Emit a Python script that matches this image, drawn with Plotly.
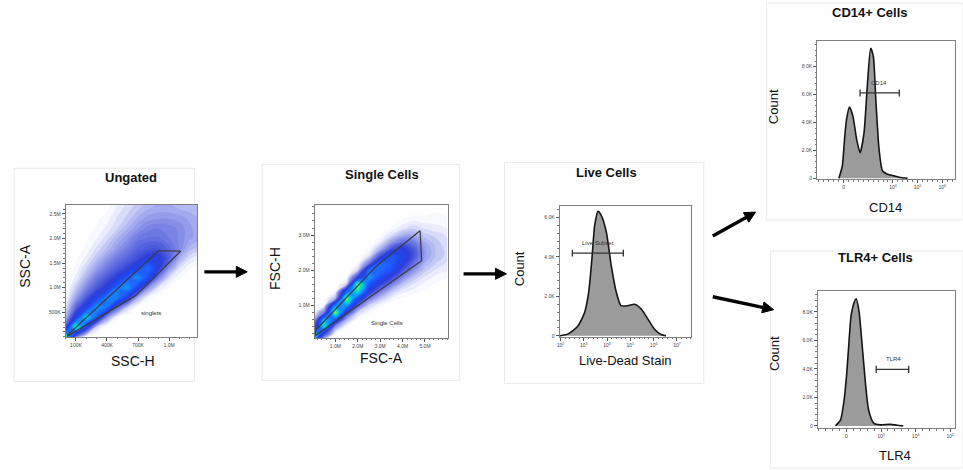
import math
import plotly.graph_objects as go

W, H = 963, 470

# ---------------- DATA ----------------
# Ungated: SSC-H (x) vs SSC-A (y) density grid (relative event density 0-10)
ssc_h_nodes = [0, 100e3, 200e3, 300e3, 400e3, 500e3, 600e3, 700e3, 800e3, 900e3, 1000e3, 1100e3, 1200e3, 1300e3]
ssc_a_nodes = [0, 200e3, 400e3, 600e3, 800e3, 1000e3, 1200e3, 1400e3, 1600e3, 1800e3, 2000e3, 2200e3, 2400e3, 2600e3, 2800e3]
ungated_density = [
    [10, 2.5, 0, 0, 0, 0, 0, 0, 0, 0, 0, 0, 0, 0],
    [3.5, 9.5, 5, 1, 0, 0, 0, 0, 0, 0, 0, 0, 0, 0],
    [1.2, 5, 8.5, 6, 2, 0.3, 0, 0, 0, 0, 0, 0, 0, 0],
    [0.6, 3, 5, 7.5, 6.5, 3, 1, 0.2, 0, 0, 0, 0, 0, 0],
    [0.3, 1.8, 3.3, 5, 7, 7, 4.5, 1.5, 0.4, 0.1, 0, 0, 0, 0],
    [0.1, 1.1, 2.3, 3.4, 4.5, 6.5, 7.5, 5, 2, 0.7, 0.2, 0, 0, 0],
    [0, 0.6, 1.5, 2.6, 3.4, 4.4, 6, 7.3, 5.3, 2.3, 0.8, 0.3, 0, 0],
    [0, 0.3, 1, 1.8, 2.6, 3.3, 4, 5.2, 6.5, 4.3, 2, 0.8, 0.3, 0.1],
    [0, 0.2, 0.6, 1.2, 1.9, 2.6, 3.1, 3.7, 4.5, 4.5, 3.2, 1.6, 0.8, 0.5],
    [0, 0.1, 0.3, 0.8, 1.3, 1.9, 2.5, 3.1, 3.4, 3.4, 2.9, 2.2, 1.4, 1.1],
    [0, 0, 0.2, 0.5, 0.9, 1.5, 2, 2.6, 2.8, 2.8, 2.5, 2.2, 1.8, 1.6],
    [0, 0, 0.1, 0.3, 0.6, 1, 1.5, 2, 2.4, 2.5, 2.4, 2.2, 1.8, 1.6],
    [0, 0, 0, 0.2, 0.4, 0.8, 1.1, 1.6, 1.9, 2, 2, 1.9, 1.7, 1.5],
    [0, 0, 0, 0.1, 0.2, 0.6, 0.9, 1.2, 1.5, 1.6, 1.6, 1.5, 1.4, 1.3],
    [0, 0, 0, 0, 0.1, 0.4, 0.7, 1, 1.3, 1.4, 1.4, 1.3, 1.2, 1.1],
]
singlets_gate_x = [15e3, 898e3, 1113e3, 679e3, 15e3]
singlets_gate_y = [30e3, 1752e3, 1745e3, 840e3, 10e3]

# Single Cells: FSC-A (x) vs FSC-H (y) density grid
fsc_a_nodes = [0, 0.5e6, 1.0e6, 1.5e6, 2.0e6, 2.5e6, 3.0e6, 3.5e6, 4.0e6, 4.5e6, 5.0e6, 5.5e6, 6.0e6]
fsc_h_nodes = [0, 0.2e6, 0.4e6, 0.6e6, 0.8e6, 1.0e6, 1.2e6, 1.4e6, 1.6e6, 1.8e6,
               2.0e6, 2.2e6, 2.4e6, 2.6e6, 2.8e6, 3.0e6, 3.2e6, 3.4e6, 3.6e6, 3.8e6, 4.0e6]
single_density = [
    [7, 0.5, 0, 0, 0, 0, 0, 0, 0, 0, 0, 0, 0],
    [9.5, 4, 0.3, 0, 0, 0, 0, 0, 0, 0, 0, 0, 0],
    [2.5, 9, 2, 0.3, 0, 0, 0, 0, 0, 0, 0, 0, 0],
    [0.5, 8, 6, 1.5, 0.2, 0, 0, 0, 0, 0, 0, 0, 0],
    [0.1, 2.5, 10, 4, 1, 0.3, 0, 0, 0, 0, 0, 0, 0],
    [0, 0.5, 7, 7.5, 3, 1, 0.4, 0, 0, 0, 0, 0, 0],
    [0, 0.1, 1.5, 10, 5.5, 2.5, 1.2, 0.5, 0.2, 0, 0, 0, 0],
    [0, 0, 0.3, 6, 9, 4.5, 2.5, 1.2, 0.6, 0.4, 0.2, 0, 0],
    [0, 0, 0, 1, 10, 6, 4, 2.5, 1.2, 0.7, 0.4, 0.2, 0.1],
    [0, 0, 0, 0.2, 4, 7.5, 5.5, 4, 2.2, 1.2, 0.7, 0.4, 0.3],
    [0, 0, 0, 0, 1, 6.5, 6.5, 5.5, 3.5, 2, 1.1, 0.7, 0.5],
    [0, 0, 0, 0, 0.3, 2.5, 6.5, 6, 4.5, 2.8, 1.5, 1, 0.7],
    [0, 0, 0, 0, 0, 0.8, 3.5, 6, 5, 3.5, 1.8, 1.2, 0.9],
    [0, 0, 0, 0, 0, 0.3, 1.5, 3.5, 4.5, 3.3, 1.8, 1.2, 0.9],
    [0, 0, 0, 0, 0, 0, 0.6, 1.8, 2.8, 2.5, 1.5, 1.1, 0.8],
    [0, 0, 0, 0, 0, 0, 0.2, 0.8, 1.5, 1.6, 1.1, 0.9, 0.7],
    [0, 0, 0, 0, 0, 0, 0, 0.3, 0.7, 0.9, 0.7, 0.6, 0.5],
    [0, 0, 0, 0, 0, 0, 0, 0, 0.3, 0.5, 0.4, 0.4, 0.3],
    [0, 0, 0, 0, 0, 0, 0, 0, 0, 0.2, 0.2, 0.3, 0.2],
    [0, 0, 0, 0, 0, 0, 0, 0, 0, 0, 0, 0.1, 0.1],
    [0, 0, 0, 0, 0, 0, 0, 0, 0, 0, 0, 0, 0],
]
single_gate_x = [0.11e6, 2.85e6, 4.78e6, 4.85e6, 0.11e6, 0.11e6]
single_gate_y = [0.29e6, 2.13e6, 3.12e6, 2.27e6, 0.15e6, 0.29e6]

# Live Cells histogram (x in decades of Live-Dead stain intensity)
live_x = [1.97, 2.33, 2.75, 3.04, 3.21, 3.35, 3.47, 3.61, 3.75, 3.97, 4.18, 4.4, 4.6, 4.9, 5.18, 5.46, 5.75, 6.03, 6.32, 6.53]
live_count = [0, 100, 500, 1200, 2200, 3900, 5600, 6300, 6100, 5250, 3560, 2200, 1530, 1530, 1600, 1370, 860, 350, 70, 0]
live_gate_x = [2.51, 4.7]
live_gate_y = 4190

# CD14+ histogram (x in display decades; "0" sits at 2)
cd14_x = [1.81, 1.95, 2.04, 2.12, 2.24, 2.38, 2.53, 2.67, 2.83, 2.97, 3.1, 3.21, 3.31, 3.44, 3.58, 3.78, 4.05, 4.33, 4.6]
cd14_count = [0, 880, 2800, 4200, 5100, 4450, 2800, 1830, 3260, 6800, 9330, 8700, 5600, 2070, 520, 290, 170, 50, 0]
cd14_gate_x = [2.67, 4.26]
cd14_gate_y = 6120

# TLR4+ histogram
tlr4_x = [1.68, 1.83, 1.92, 2.0, 2.07, 2.13, 2.21, 2.28, 2.36, 2.45, 2.55, 2.64, 2.79, 2.98, 3.27, 3.46, 3.64]
tlr4_count = [0, 420, 1590, 3450, 5780, 7650, 8580, 8930, 8110, 5780, 2990, 1120, 190, 70, 120, 50, 0]
tlr4_gate_x = [2.86, 3.8]
tlr4_gate_y = 3970

# Tick labels
ungated_xticks = [100e3, 400e3, 700e3, 1.0e6]
ungated_xtext = ["100K", "400K", "700K", "1.0M"]
ungated_yticks = [500e3, 1.0e6, 1.5e6, 2.0e6, 2.5e6]
ungated_ytext = ["500K", "1.0M", "1.5M", "2.0M", "2.5M"]
single_xticks = [1e6, 2e6, 3e6, 4e6, 5e6]
single_xtext = ["1.0M", "2.0M", "3.0M", "4.0M", "5.0M"]
single_yticks = [1e6, 2e6, 3e6]
single_ytext = ["1.0M", "2.0M", "3.0M"]
count_ticks = [0, 2000, 4000, 6000, 8000]
count_text = ["0", "2.0K", "4.0K", "6.0K", "8.0K"]
live_xticks = [2, 3, 4, 5, 6, 7]
live_xtext = ["10<sup>2</sup>", "10<sup>3</sup>", "10<sup>4</sup>", "10<sup>5</sup>", "10<sup>6</sup>", "10<sup>7</sup>"]
cd14_xticks = [2, 4, 5, 6]
cd14_xtext = ["0", "10<sup>4</sup>", "10<sup>5</sup>", "10<sup>6</sup>"]
tlr4_xticks = [2, 3, 4, 5]
tlr4_xtext = ["0", "10<sup>3</sup>", "10<sup>4</sup>", "10<sup>5</sup>"]

# ---------------- FIGURE ----------------
def px(x):
    return x / W

def py(y):
    return 1 - y / H

density_scale = [
    [0.0, "#ffffff"], [0.05, "#e4e6fa"], [0.1, "#bcc1f3"], [0.2, "#828ae7"],
    [0.3, "#5360de"], [0.4, "#2e3ed8"], [0.5, "#2046ee"], [0.6, "#1f5cff"],
    [0.7, "#1886ff"], [0.78, "#08b4f2"], [0.86, "#00dcd0"], [0.93, "#3af08a"], [1.0, "#80ff3c"],
]

fig = go.Figure()

def add_density(xs, ys, z, ax, ay):
    fig.add_trace(go.Contour(x=xs, y=ys, z=z, zmin=0, zmax=10, colorscale=density_scale,
                             contours=dict(coloring="fill", start=0.25, end=10, size=0.25),
                             line=dict(width=0, smoothing=1.3), showscale=False,
                             xaxis=ax, yaxis=ay, hoverinfo="skip"))

add_density(ssc_h_nodes, ssc_a_nodes, ungated_density, "x", "y")
fig.add_trace(go.Scatter(x=singlets_gate_x, y=singlets_gate_y, mode="lines",
                         line=dict(color="#3a3a3a", width=1.2), xaxis="x", yaxis="y",
                         showlegend=False, hoverinfo="skip"))

add_density(fsc_a_nodes, fsc_h_nodes, single_density, "x2", "y2")
fig.add_trace(go.Scatter(x=single_gate_x, y=single_gate_y, mode="lines",
                         line=dict(color="#3a3a3a", width=1.2), xaxis="x2", yaxis="y2",
                         showlegend=False, hoverinfo="skip"))


def add_hist(xs, ys, ax, ay):
    fig.add_trace(go.Scatter(x=xs, y=ys, mode="lines", fill="tozeroy",
                             fillcolor="#9b9b9b",
                             line=dict(color="#151515", width=1.6, shape="spline", smoothing=0.6),
                             xaxis=ax, yaxis=ay, showlegend=False, hoverinfo="skip"))


def add_gate(gx, gy, cap, ax, ay):
    x0, x1 = gx
    fig.add_trace(go.Scatter(x=[x0, x0, None, x0, x1, None, x1, x1],
                             y=[gy - cap, gy + cap, None, gy, gy, None, gy - cap, gy + cap],
                             mode="lines", line=dict(color="#333333", width=1.3),
                             xaxis=ax, yaxis=ay, showlegend=False, hoverinfo="skip"))


add_hist(live_x, live_count, "x3", "y3")
add_gate(live_gate_x, live_gate_y, 170, "x3", "y3")
add_hist(cd14_x, cd14_count, "x4", "y4")
add_gate(cd14_gate_x, cd14_gate_y, 250, "x4", "y4")
add_hist(tlr4_x, tlr4_count, "x5", "y5")
add_gate(tlr4_gate_x, tlr4_gate_y, 250, "x5", "y5")


def frame(domain, rng, tv, tt, minor_dtick):
    return dict(domain=domain, range=rng, tickvals=tv, ticktext=tt,
                showline=True, linecolor="#808080", linewidth=1, mirror=True,
                ticks="outside", ticklen=3, tickcolor="#555555", tickwidth=1,
                tickfont=dict(size=5, color="#444444", family="Liberation Sans, Arial, sans-serif"),
                showgrid=False, zeroline=False, fixedrange=True,
                minor=dict(ticks="outside", ticklen=1.5, tickcolor="#777777", dtick=minor_dtick))


# pixel geometry of the five plot frames
fx = {1: (62.8, 195), 2: (312.7, 446.7), 3: (558.3, 690), 4: (816.7, 955), 5: (817.3, 955)}
fy = {1: (206, 338.3), 2: (206, 339.3), 3: (206.7, 338.3), 4: (40.7, 180), 5: (292.7, 430)}

layout_axes = {}
specs = {
    1: ([0, 1274e3], ungated_xticks, ungated_xtext, 100e3, [0, 2680e3], ungated_yticks, ungated_ytext, 100e3),
    2: ([0.08e6, 6.04e6], single_xticks, single_xtext, 0.2e6, [0.08e6, 3.85e6], single_yticks, single_ytext, 0.2e6),
    3: ([1.96, 7.6], live_xticks, live_xtext, 0.2, [-50, 6580], count_ticks[:4], count_text[:4], 400),
    4: ([0.93, 6.52], cd14_xticks, cd14_xtext, 0.2, [-70, 9880], count_ticks, count_text, 400),
    5: ([1.17, 5.14], tlr4_xticks, tlr4_xtext, 0.2, [-160, 9440], count_ticks, count_text, 400),
}
for i, (xr, xtv, xtt, xmd, yr, ytv, ytt, ymd) in specs.items():
    dx = [px(fx[i][0]), px(fx[i][1])]
    dy = [py(fy[i][1]), py(fy[i][0])]
    sx = "" if i == 1 else str(i)
    xa = frame(dx, xr, xtv, xtt, xmd)
    xa["anchor"] = "y" + sx
    ya = frame(dy, yr, ytv, ytt, ymd)
    ya["anchor"] = "x" + sx
    layout_axes["xaxis" + sx] = xa
    layout_axes["yaxis" + sx] = ya

# faint panel cards
cards = [(11, 169, 192, 383), (260, 165, 458, 382), (503, 163, 703, 385), (766, 3, 963, 221), (770, 252, 963, 470)]
shapes = []
for (x0, y0, x1, y1) in cards:
    shapes.append(dict(type="rect", xref="paper", yref="paper", x0=px(x0), x1=px(x1), y0=py(y1), y1=py(y0),
                       line=dict(color="#e9e9e9", width=1), fillcolor="rgba(0,0,0,0)", layer="below"))

# arrows drawn as shapes: (tail px, head px)
arrows = [((202, 273), (245, 273)), ((462, 275), (505, 275)), ((712, 237), (755, 213)), ((712, 298), (773, 311))]
head_len, head_half = 11, 5.5
for (tx, ty), (hx, hy) in arrows:
    L = math.hypot(hx - tx, hy - ty)
    ux, uy = (hx - tx) / L, (hy - ty) / L
    bx, by = hx - ux * head_len, hy - uy * head_len
    nx, ny = -uy, ux
    shapes.append(dict(type="line", xref="paper", yref="paper", x0=px(tx), y0=py(ty), x1=px(bx + ux), y1=py(by + uy),
                       line=dict(color="black", width=3.4)))
    p1 = (bx + nx * head_half, by + ny * head_half)
    p2 = (bx - nx * head_half, by - ny * head_half)
    path = "M %f %f L %f %f L %f %f Z" % (px(hx), py(hy), px(p1[0]), py(p1[1]), px(p2[0]), py(p2[1]))
    shapes.append(dict(type="path", xref="paper", yref="paper", path=path, fillcolor="black",
                       line=dict(color="black", width=1)))

font_main = "Liberation Sans, Arial, sans-serif"
ann = []

def text(x, y, s, size, bold=False, angle=0, color="#111111"):
    ann.append(dict(xref="paper", yref="paper", x=px(x), y=py(y), text=("<b>%s</b>" % s) if bold else s,
                    showarrow=False, xanchor="center", yanchor="middle", textangle=angle,
                    font=dict(size=size, color=color, family=font_main)))

text(128, 178, "Ungated", 13, bold=True)
text(380, 175, "Single Cells", 13, bold=True)
text(605, 173, "Live Cells", 13, bold=True)
text(870, 13, "CD14+ Cells", 13, bold=True)
text(875, 259, "TLR4+ Cells", 13, bold=True)

text(22, 267, "SSC-A", 14, angle=-90)
text(130, 363, "SSC-H", 14)
text(273, 270, "FSC-H", 14, angle=-90)
text(380, 360, "FSC-A", 14)
text(518, 270, "Count", 13, angle=-90)
text(624, 362, "Live-Dead Stain", 13)
text(773, 107, "Count", 13, angle=-90)
text(885, 208, "CD14", 13)
text(774, 355, "Count", 13, angle=-90)
text(895, 457, "TLR4", 13)

# gate labels
def gate_label(xref, yref, x, y, s):
    ann.append(dict(xref=xref, yref=yref, x=x, y=y, text=s, showarrow=False,
                    font=dict(size=6, color="#333333", family=font_main)))

gate_label("x", "y", 830e3, 480e3, "singlets")
gate_label("x2", "y2", 3.3e6, 0.5e6, "Single Cells")
gate_label("x3", "y3", (live_gate_x[0] + live_gate_x[1]) / 2, live_gate_y + 500, "Live Subset")
gate_label("x4", "y4", 3.44, cd14_gate_y + 700, "CD14")
gate_label("x5", "y5", 3.36, tlr4_gate_y + 700, "TLR4")

fig.update_layout(width=W, height=H, margin=dict(l=0, r=0, t=0, b=0),
                  paper_bgcolor="white", plot_bgcolor="white", showlegend=False,
                  shapes=shapes, annotations=ann, **layout_axes)

fig.write_html("out.html", config={"displayModeBar": False},
               post_script="document.body.style.margin='0px';document.body.style.padding='0px';")
